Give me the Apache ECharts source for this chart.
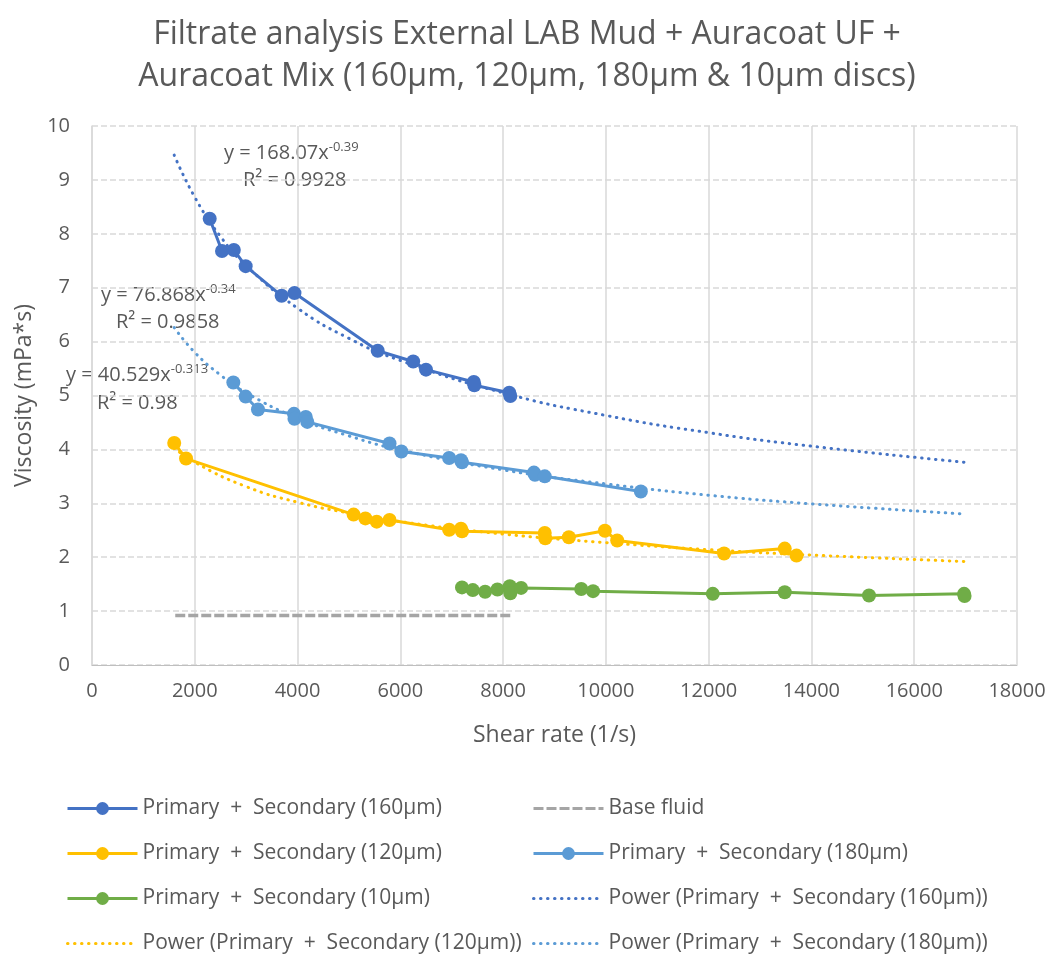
<!DOCTYPE html>
<html>
<head>
<meta charset="utf-8">
<title>Filtrate analysis</title>
<script src="https://cdn.jsdelivr.net/npm/echarts@6/dist/echarts.min.js"></script>
<style>
  html, body { margin: 0; padding: 0; background: #fff; }
  #chart { width: 1054px; height: 956px; }
</style>
</head>
<body>
<div id="chart"></div>
<script>
// --- data (x = shear rate 1/s, y = viscosity mPa*s) ---
const xTicks = [0, 2000, 4000, 6000, 8000, 10000, 12000, 14000, 16000, 18000]
const yTicks = [0, 1, 2, 3, 4, 5, 6, 7, 8, 9, 10]

const s160 = [
  [2290, 8.28], [2530, 7.68], [2760, 7.70], [2990, 7.40], [3690, 6.85], [3940, 6.90],
  [5560, 5.83], [6250, 5.63], [6500, 5.48], [7430, 5.25], [7440, 5.19], [8120, 5.05], [8140, 4.99]
]
const s120 = [
  [1600, 4.12], [1830, 3.83], [5090, 2.79], [5320, 2.72], [5540, 2.66], [5790, 2.69],
  [6950, 2.51], [7180, 2.53], [7200, 2.48], [8810, 2.45], [8820, 2.35], [9280, 2.37],
  [9980, 2.49], [10220, 2.31], [12300, 2.07], [13480, 2.16], [13710, 2.03]
]
const s180 = [
  [2750, 5.24], [2990, 4.98], [3230, 4.74], [3930, 4.66], [3940, 4.57], [4160, 4.60],
  [4190, 4.51], [5790, 4.11], [6020, 3.96], [6950, 3.84], [7180, 3.80], [7200, 3.76],
  [8600, 3.57], [8620, 3.53], [8810, 3.50], [10680, 3.22]
]
const s10 = [
  [7200, 1.44], [7410, 1.39], [7650, 1.36], [7890, 1.40], [8130, 1.46], [8140, 1.33],
  [8350, 1.43], [9520, 1.41], [9750, 1.37], [12080, 1.32], [13480, 1.35], [15120, 1.29],
  [16970, 1.32], [16980, 1.28]
]
const baseFluid = [
  [1620, 0.92], [2300, 0.92], [2990, 0.92], [3940, 0.92], [5560, 0.92], [6250, 0.92],
  [7200, 0.92], [8150, 0.92]
]

// power trendlines, points
const trend160 = [
  [1600, 9.46], [2000, 8.68], [2500, 7.95], [3000, 7.41], [4000, 6.62], [5000, 6.06],
  [6000, 5.65], [8000, 5.05], [10000, 4.63], [12000, 4.31], [14000, 4.06], [17000, 3.76]
]
const trend180 = [
  [1600, 6.26], [2000, 5.80], [2500, 5.38], [3000, 5.05], [4000, 4.58], [5000, 4.25],
  [6000, 3.99], [8000, 3.62], [10000, 3.36], [12000, 3.15], [14000, 2.99], [17000, 2.80]
]
const trend120 = [
  [1600, 4.03], [2000, 3.76], [3000, 3.31], [4000, 3.02], [5000, 2.82], [6000, 2.66],
  [8000, 2.43], [10000, 2.27], [12000, 2.14], [14000, 2.04], [17000, 1.92]
]

const names = {
  s160: 'Primary  +  Secondary (160µm)',
  s120: 'Primary  +  Secondary (120µm)',
  s10: 'Primary  +  Secondary (10µm)',
  base: 'Base fluid',
  s180: 'Primary  +  Secondary (180µm)',
  t160: 'Power (Primary  +  Secondary (160µm))',
  t120: 'Power (Primary  +  Secondary (120µm))',
  t180: 'Power (Primary  +  Secondary (180µm))'
}

const colors = { s160: '#4472C4', s120: '#FFC000', s180: '#5B9BD5', s10: '#70AD47', base: '#A5A5A5' }
const FONT = '"Open Sans", "Noto Sans", sans-serif'
const TXT = '#595959'

function markerSeries(name, data, color) {
  return {
    name, type: 'line', data,
    symbol: 'circle', symbolSize: 14,
    lineStyle: { width: 3, color },
    itemStyle: { color },
    emphasis: { disabled: true }
  }
}

function trendSeries(name, data, color) {
  return {
    name, type: 'line', data, smooth: true,
    symbol: 'none',
    lineStyle: { width: 3, color, type: [0.5, 6.5], cap: 'round' },
    itemStyle: { color },
    z: 3
  }
}

const chart = echarts.init(document.getElementById('chart'))

const rich = {
  t: { fontFamily: FONT, fontSize: 20, fill: TXT },
  sup: { fontFamily: FONT, fontSize: 13, fill: TXT, verticalAlign: 'top', padding: [0, 0, 12, 0] }
}

function eqText(left, top, base, exp) {
  return {
    type: 'text', left, top,
    style: { rich, text: '{t|' + base + '}{sup|' + exp + '}' }
  }
}
function r2Text(left, top, text) {
  return { type: 'text', left, top, style: { text, font: '20px ' + FONT, fill: TXT } }
}

// one legend per entry so the two-column Excel layout is kept
const legendRows = [806, 851, 896, 941]
const legendCols = [66, 532]
const legendOrder = [
  [names.s160, names.base],
  [names.s120, names.s180],
  [names.s10, names.t160],
  [names.t120, names.t180]
]
const noSymbol = [names.base, names.t160, names.t120, names.t180]

const legends = []
legendOrder.forEach((row, r) => {
  row.forEach((name, c) => {
    legends.push({
      left: legendCols[c],
      top: legendRows[r] - 8,
      padding: 0,
      itemWidth: 70,
      itemHeight: 16,
      selectedMode: false,
      lineStyle: { width: 3 },
      textStyle: { fontFamily: FONT, fontSize: 21, color: TXT },
      data: [noSymbol.includes(name) ? { name, itemStyle: { opacity: 0 } } : name]
    })
  })
})

chart.setOption({
  animation: false,
  title: {
    text: 'Filtrate analysis External LAB Mud + Auracoat UF +\nAuracoat Mix (160µm, 120µm, 180µm & 10µm discs)',
    left: 522,
    textAlign: 'center',
    top: 9,
    textStyle: { fontFamily: FONT, fontSize: 32, fontWeight: 'normal', color: TXT, lineHeight: 42 }
  },
  grid: { left: 92, right: 37, top: 126, bottom: 291 },
  legend: legends,
  xAxis: {
    type: 'value', min: xTicks[0], max: xTicks[xTicks.length - 1], interval: 2000,
    name: 'Shear rate (1/s)', nameLocation: 'middle', nameGap: 59,
    nameTextStyle: { fontFamily: FONT, fontSize: 23, color: TXT },
    axisLine: { lineStyle: { color: '#BFBFBF', width: 1 } },
    axisTick: { show: false },
    axisLabel: { fontFamily: FONT, fontSize: 20, color: TXT, margin: 16, formatter: (v) => String(v) },
    splitLine: { show: true, lineStyle: { color: '#D9D9D9', width: 1.5 } }
  },
  yAxis: {
    type: 'value', min: yTicks[0], max: yTicks[yTicks.length - 1], interval: 1,
    name: 'Viscosity (mPa*s)', nameLocation: 'middle', nameGap: 52, nameRotate: 90,
    nameTextStyle: { fontFamily: FONT, fontSize: 23, color: TXT },
    axisLine: { show: true, lineStyle: { color: '#D9D9D9', width: 1.5 } },
    axisTick: { show: false },
    axisLabel: { fontFamily: FONT, fontSize: 20, color: TXT, margin: 22 },
    splitLine: { show: true, lineStyle: { color: '#D9D9D9', width: 1.5, type: [6, 3] } }
  },
  series: [
    markerSeries(names.s160, s160, colors.s160),
    {
      name: names.base, type: 'line', data: baseFluid, symbol: 'none',
      lineStyle: { width: 3.5, color: colors.base, type: [10, 3] },
      itemStyle: { color: colors.base }
    },
    markerSeries(names.s120, s120, colors.s120),
    markerSeries(names.s180, s180, colors.s180),
    markerSeries(names.s10, s10, colors.s10),
    trendSeries(names.t160, trend160, colors.s160),
    trendSeries(names.t120, trend120, colors.s120),
    trendSeries(names.t180, trend180, colors.s180)
  ],
  graphic: [
    eqText(224, 141, 'y = 168.07x', '-0.39'),
    r2Text(243, 170, 'R² = 0.9928'),
    eqText(101, 283, 'y = 76.868x', '-0.34'),
    r2Text(116, 312, 'R² = 0.9858'),
    eqText(66, 363, 'y = 40.529x', '-0.313'),
    r2Text(97, 393, 'R² = 0.98')
  ]
})

window.addEventListener('resize', () => chart.resize())
</script>
</body>
</html>
